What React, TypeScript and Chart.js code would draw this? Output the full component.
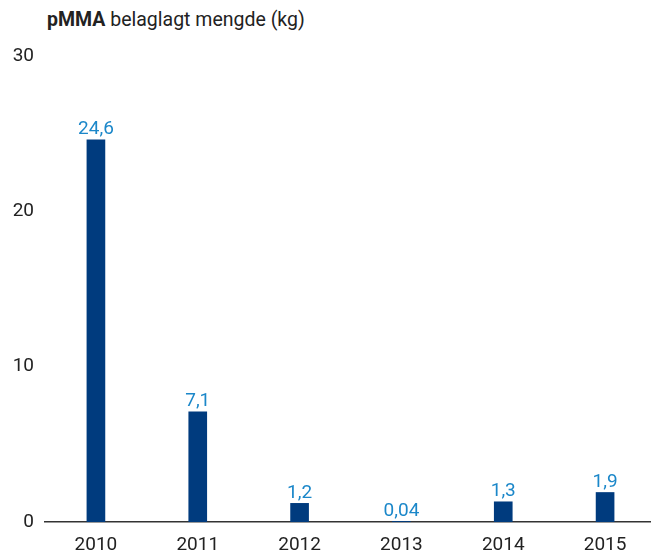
import React, { useEffect, useRef } from "react";
import { Chart, registerables } from "chart.js";

Chart.register(...registerables);

const years = ["2010", "2011", "2012", "2013", "2014", "2015"];
const amounts = [24.6, 7.1, 1.2, 0.04, 1.3, 1.9];
const valueLabels = ["24,6", "7,1", "1,2", "0,04", "1,3", "1,9"];
const yTicks = [0, 10, 20, 30];

const FONT = "Roboto, 'DejaVu Sans', sans-serif";

const valueLabelPlugin = {
  id: "valueLabels",
  afterDatasetsDraw(chart: any) {
    const ctx = chart.ctx;
    const meta = chart.getDatasetMeta(0);
    ctx.save();
    ctx.fillStyle = "#1b87c9";
    ctx.font = `19px ${FONT}`;
    ctx.textAlign = "center";
    ctx.textBaseline = "bottom";
    meta.data.forEach((el: any, i: number) => {
      ctx.fillText(valueLabels[i], el.x, el.y - 1);
    });
    ctx.restore();
  },
};

export default function App() {
  const ref = useRef<HTMLCanvasElement>(null);
  useEffect(() => {
    if (!ref.current) return;
    const chart = new Chart(ref.current, {
      type: "bar",
      data: {
        labels: years,
        datasets: [
          {
            data: amounts,
            backgroundColor: "#003b7e",
            barThickness: 18,
          },
        ],
      },
      options: {
        animation: false,
        responsive: false,
        maintainAspectRatio: false,
        layout: { padding: { top: 56, right: 4, left: 0, bottom: 0 } },
        plugins: { legend: { display: false }, tooltip: { enabled: false } },
        scales: {
          x: {
            grid: { display: false, drawTicks: false },
            border: { display: true, color: "#333333", width: 1.5 },
            ticks: {
              color: "#222222",
              font: { family: FONT, size: 19 },
              padding: 12,
            },
            afterFit(scale: any) {
              scale.height = 32;
            },
          },
          y: {
            min: 0,
            max: 30,
            grid: { display: false, drawTicks: false },
            border: { display: false },
            afterBuildTicks(scale: any) {
              scale.ticks = yTicks.map((v) => ({ value: v }));
            },
            ticks: {
              color: "#222222",
              font: { family: FONT, size: 19 },
              padding: 11,
            },
            afterFit(scale: any) {
              scale.width = 45;
            },
          },
        },
      },
      plugins: [valueLabelPlugin],
    });
    return () => chart.destroy();
  }, []);

  return (
    <div
      style={{
        position: "fixed",
        left: 0,
        top: 0,
        width: 651,
        height: 554,
        overflow: "hidden",
        background: "#ffffff",
      }}
    >
      <div
        style={{
          position: "absolute",
          left: 47,
          top: 8,
          fontFamily: FONT,
          fontSize: 19.5,
          color: "#222222",
          whiteSpace: "nowrap",
          lineHeight: "24px",
        }}
      >
        <span style={{ fontWeight: "bold" }}>pMMA</span> belaglagt mengde (kg)
      </div>
      <canvas
        ref={ref}
        width={660}
        height={554}
        style={{ position: "absolute", left: 0, top: 0, width: 660, height: 554 }}
      />
    </div>
  );
}
